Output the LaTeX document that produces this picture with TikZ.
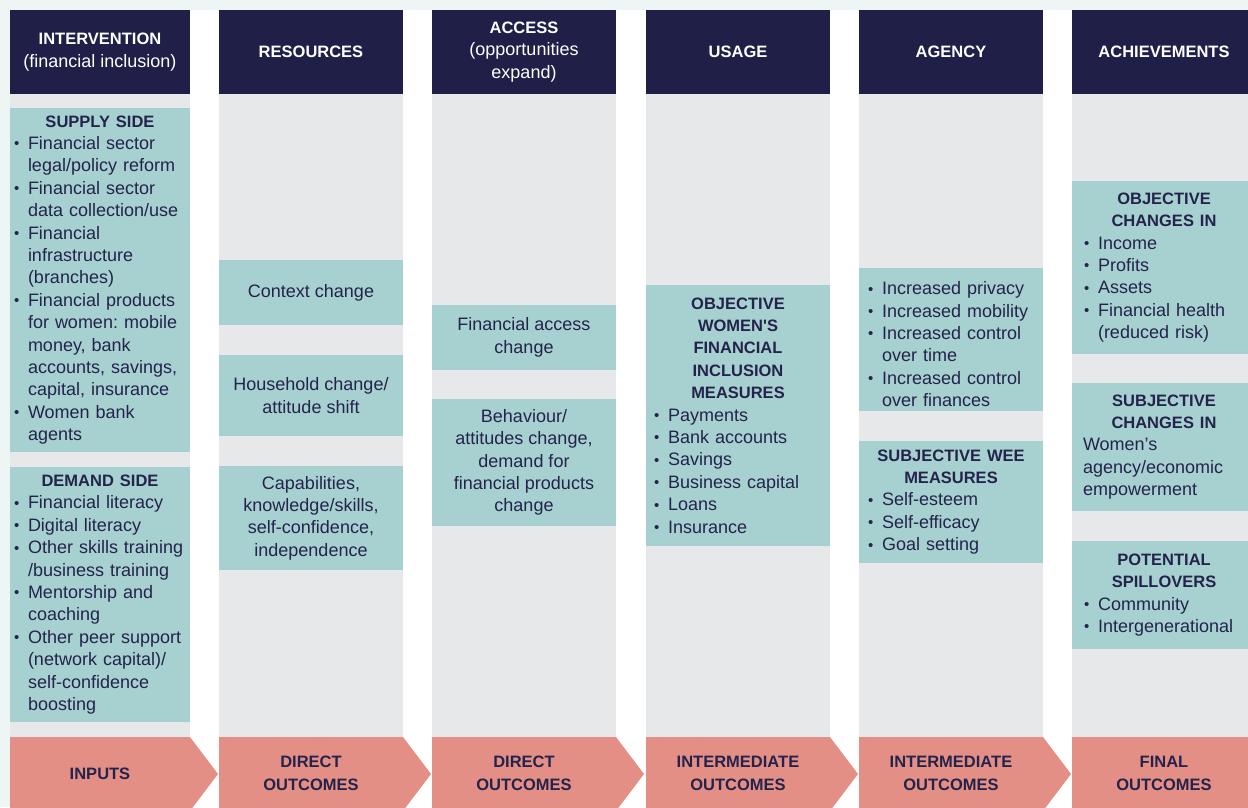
\documentclass[tikz,border=0pt]{standalone}
\usepackage{xcolor}
\usepackage{fontspec}
\setmainfont{Liberation Sans}
\setlength{\parindent}{0pt}
\frenchspacing

\definecolor{navyc}{HTML}{201F48}
\definecolor{inkc}{HTML}{24234B}
\definecolor{greyc}{HTML}{E7E8EA}
\definecolor{tealc}{HTML}{A7D1D0}
\definecolor{salmonc}{HTML}{E48F86}
\definecolor{mintc}{HTML}{EEF6F5}

\newcommand{\bodyfont}{\fontsize{18}{22.4}\selectfont}
\newcommand{\hdfont}{\fontsize{16.5}{22.4}\selectfont\bfseries}
\newcommand{\boxhead}[1]{{\centering\hdfont #1\par}}
\newcommand{\bitem}{\par\noindent\hangindent=14pt\hangafter=1%
  \makebox[14pt][l]{\raisebox{0.6pt}{\fontsize{15}{15}\selectfont\textbullet}}}

\tikzset{
  colhead/.style={fill=navyc, text=white, minimum width=184pt,
    minimum height=84pt, inner sep=0pt, align=center, font=\bodyfont},
  tealbox/.style={fill=tealc, text=inkc, minimum width=184pt,
    inner ysep=0pt, align=left, font=\bodyfont},
  plainbox/.style={fill=tealc, text=inkc, minimum width=184pt,
    inner sep=0pt, align=center, font=\bodyfont},
  stagetext/.style={text=inkc, align=center, font=\hdfont},
}

\begin{document}
\begin{tikzpicture}[x=1pt, y=-1pt]
\useasboundingbox (0,0) rectangle (1248,807);
\clip (0,0) rectangle (1248,807);
\fill[mintc] (0,0) rectangle (1248,807);
\fill[white] (10,10) rectangle (1248,807);

\fill[greyc] (10,94) rectangle (190,737);
\fill[greyc] (219,94) rectangle (403,737);
\fill[greyc] (432,94) rectangle (616,737);
\fill[greyc] (646,94) rectangle (830,737);
\fill[greyc] (859,94) rectangle (1043,737);
\fill[greyc] (1072,94) rectangle (1256,737);

\fill[salmonc] (10,737) -- (190,737) -- (218,774) -- (190,811) -- (10,811) -- cycle;
\fill[salmonc] (219,737) -- (403,737) -- (431,774) -- (403,811) -- (219,811) -- cycle;
\fill[salmonc] (432,737) -- (616,737) -- (644,774) -- (616,811) -- (432,811) -- cycle;
\fill[salmonc] (646,737) -- (830,737) -- (858,774) -- (830,811) -- (646,811) -- cycle;
\fill[salmonc] (859,737) -- (1043,737) -- (1071,774) -- (1043,811) -- (859,811) -- cycle;
\fill[salmonc] (1072,737) rectangle (1260,811);

\node[colhead, minimum width=180pt] (intervention) at (100,52)
{{\hdfont INTERVENTION}\\(financial inclusion)};
\node[colhead] (resources) at (311,52) {{\hdfont RESOURCES}};
\node[colhead] (access) at (524,52)
{{\hdfont ACCESS}\\(opportunities\\expand)};
\node[colhead] (usage) at (738,52) {{\hdfont USAGE}};
\node[colhead] (agency) at (951,52) {{\hdfont AGENCY}};
\node[colhead] (achieve) at (1164,52) {{\hdfont ACHIEVEMENTS}};

\node[tealbox, minimum width=180pt, minimum height=344pt,
  text width=172pt, inner xsep=4pt] (supply) at (100,280) {%
  \boxhead{SUPPLY SIDE}
  \bitem Financial sector\newline legal/policy reform
  \bitem Financial sector\newline data collection/use
  \bitem Financial\newline infrastructure\newline (branches)
  \bitem Financial products\newline for women: mobile\newline money, bank\newline
    accounts, savings,\newline capital, insurance
  \bitem Women bank\newline agents\par};
\node[tealbox, minimum width=180pt, minimum height=255pt,
  text width=172pt, inner xsep=4pt] (demand) at (100,594.5) {%
  \boxhead{DEMAND SIDE}
  \bitem Financial literacy
  \bitem Digital literacy
  \bitem Other skills training\newline /business training
  \bitem Mentorship and\newline coaching
  \bitem Other peer support\newline (network capital)/\newline
    self-confidence\newline boosting\par};

\node[plainbox, minimum height=65pt] (context) at (311,292.5)
{Context change};
\node[plainbox, minimum height=81pt] (household) at (311,395.5)
{Household change/\\attitude shift};
\node[plainbox, minimum height=104pt] (capab) at (311,518)
{Capabilities,\\knowledge/skills,\\self-confidence,\\independence};

\node[plainbox, minimum height=65pt] (finaccess) at (524,337.5)
{Financial access\\change};
\node[plainbox, minimum height=127pt] (behaviour) at (524,462.5)
{Behaviour/\\attitudes change,\\demand for\\financial products\\change};

\node[tealbox, minimum height=261pt, text width=168pt,
  inner xsep=8pt] (objmeas) at (738,415.5) {%
  \boxhead{OBJECTIVE\\WOMEN\textquotesingle S\\FINANCIAL\\INCLUSION\\MEASURES}
  \bitem Payments
  \bitem Bank accounts
  \bitem Savings
  \bitem Business capital
  \bitem Loans
  \bitem Insurance\par};

\node[tealbox, minimum height=143pt, text width=166pt,
  inner xsep=9pt] (increased) at (951,339.5) {%
  \bitem Increased privacy
  \bitem Increased mobility
  \bitem Increased control\newline over time
  \bitem Increased control\newline over finances\par};
\node[tealbox, minimum height=122pt, text width=166pt,
  inner xsep=9pt] (wee) at (951,502) {%
  \boxhead{SUBJECTIVE WEE\\MEASURES}
  \bitem Self-esteem
  \bitem Self-efficacy
  \bitem Goal setting\par};

\node[tealbox, minimum height=173pt, text width=160pt,
  inner xsep=12pt] (objchange) at (1164,267.5) {%
  \boxhead{OBJECTIVE\\CHANGES IN}
  \bitem Income
  \bitem Profits
  \bitem Assets
  \bitem Financial health\newline (reduced risk)\par};
\node[tealbox, minimum height=128pt, text width=162pt,
  inner xsep=11pt] (subchange) at (1164,447) {%
  \boxhead{SUBJECTIVE\\CHANGES IN}
  Women’s\\agency/economic\\empowerment\par};
\node[tealbox, minimum height=108pt, text width=160pt,
  inner xsep=12pt] (spill) at (1164,595) {%
  \boxhead{POTENTIAL\\SPILLOVERS}
  \bitem Community
  \bitem Intergenerational\par};

\node[stagetext] (inputs) at (100,774) {INPUTS};
\node[stagetext] (direct1) at (311,773.5) {DIRECT\\OUTCOMES};
\node[stagetext] (direct2) at (524,773.5) {DIRECT\\OUTCOMES};
\node[stagetext] (inter1) at (738,773.5) {INTERMEDIATE\\OUTCOMES};
\node[stagetext] (inter2) at (951,773.5) {INTERMEDIATE\\OUTCOMES};
\node[stagetext] (final) at (1164,773.5) {FINAL\\OUTCOMES};
\end{tikzpicture}
\end{document}
